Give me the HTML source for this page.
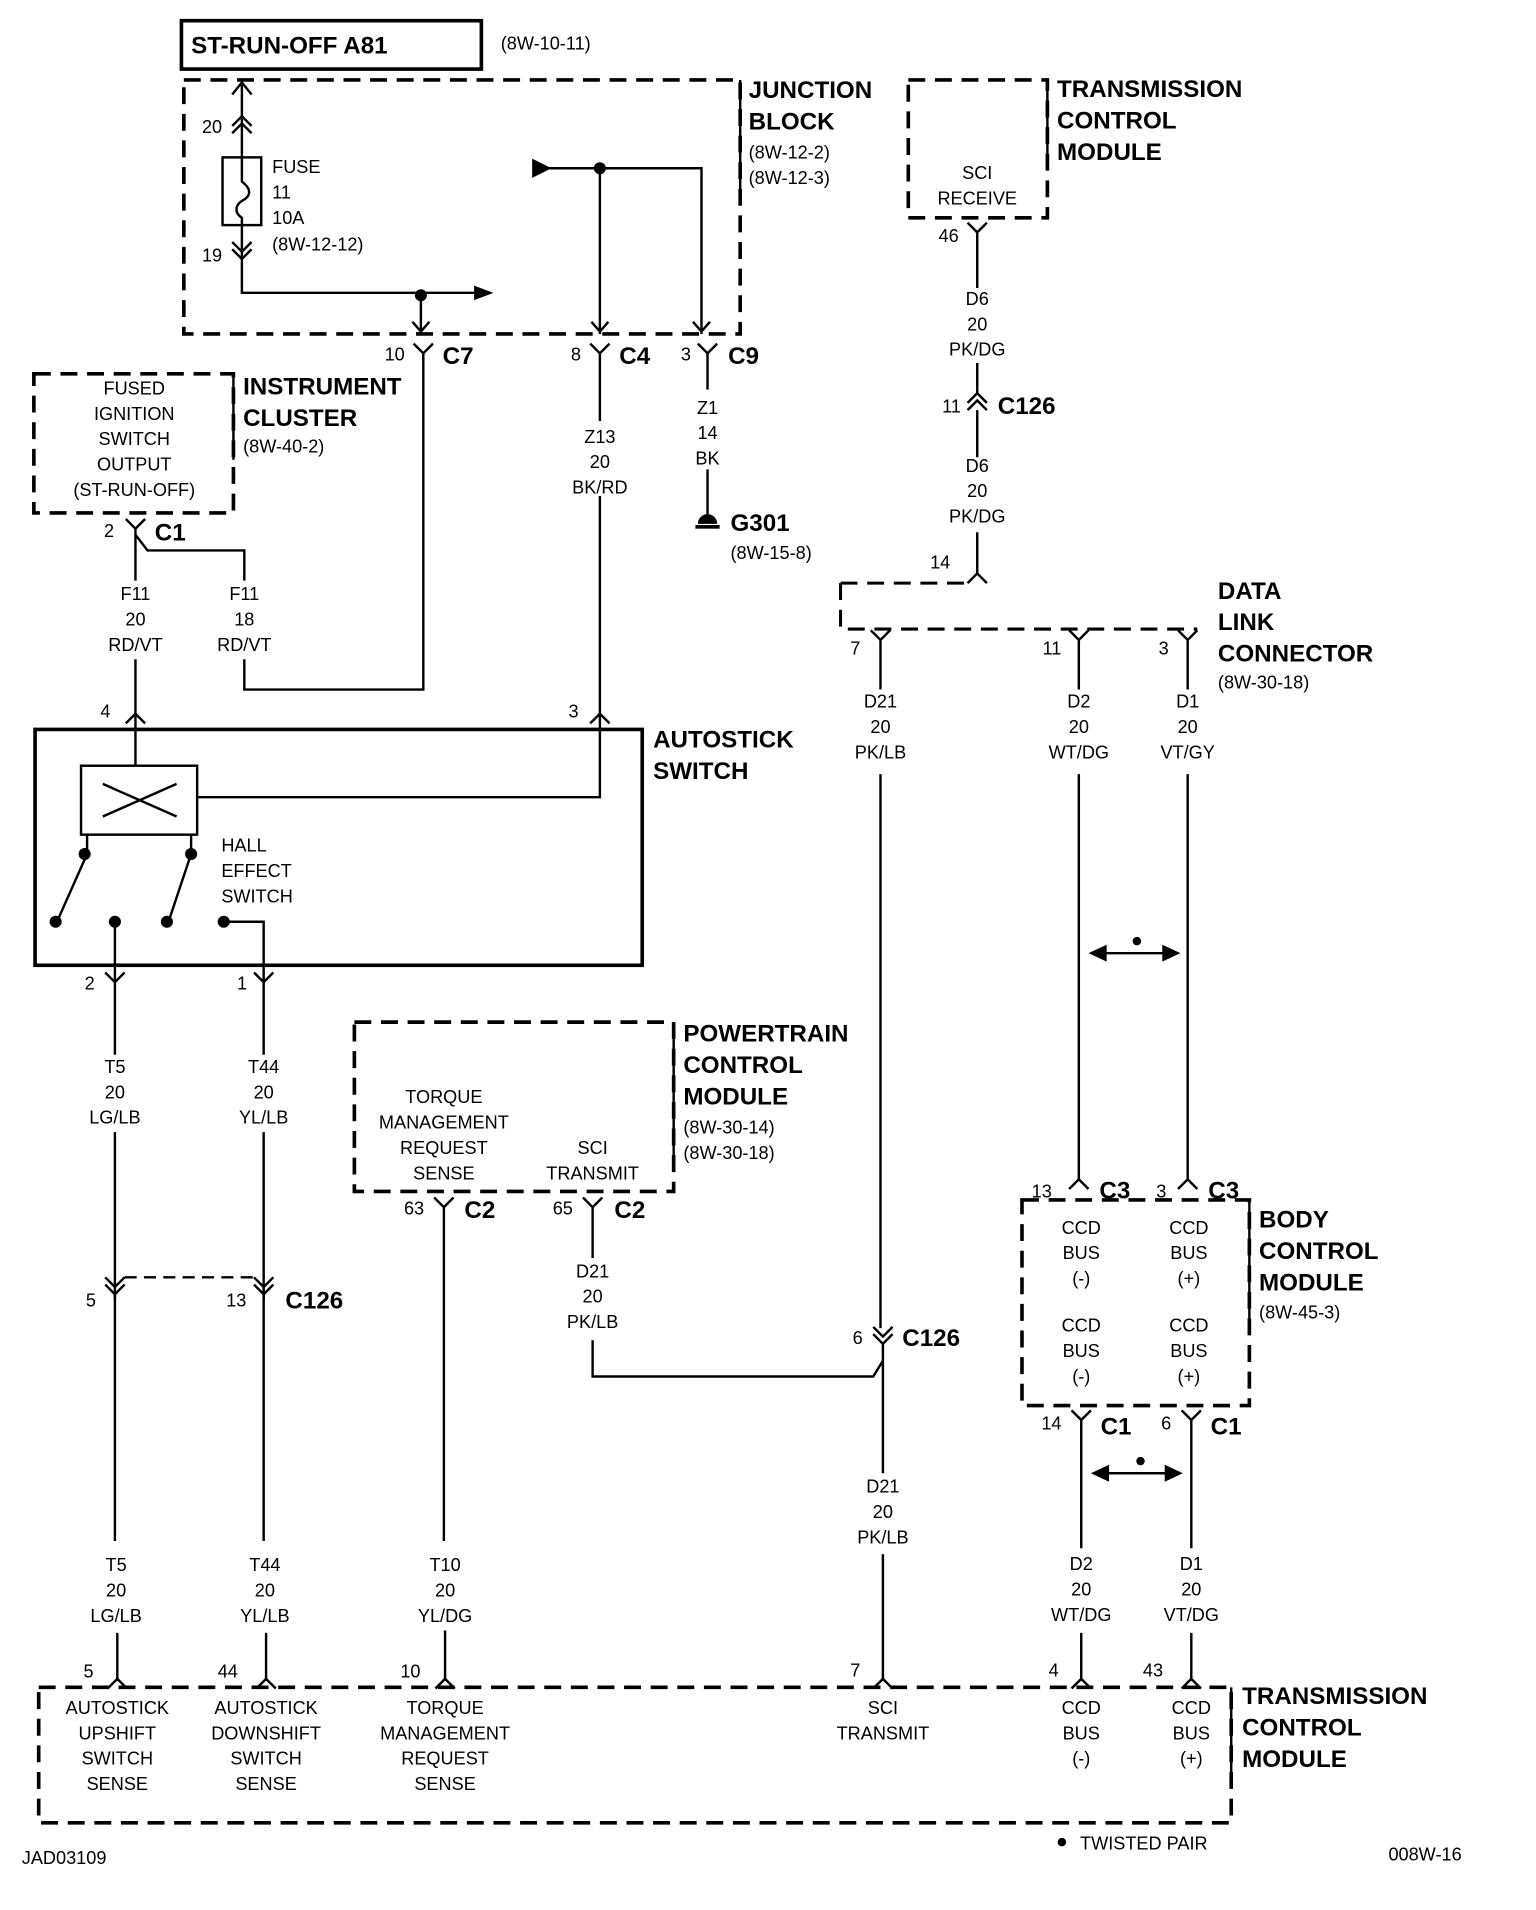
<!DOCTYPE html>
<html><head><meta charset="utf-8"><style>
html,body{margin:0;padding:0;background:#fff}
svg{display:block}
text{font-family:"Liberation Sans",sans-serif;fill:#000}
.s{font-size:15px}
.b{font-size:20px;font-weight:bold}
.m{text-anchor:middle}
</style></head><body>
<svg width="1536" height="1910" viewBox="0 0 1270 1579" xmlns="http://www.w3.org/2000/svg">
<g fill="none" stroke="#000" stroke-width="2">
<rect x="150" y="17" width="248" height="40" stroke-width="3"/>
<rect x="152" y="66" width="460" height="210" stroke-width="3" stroke-dasharray="14,8"/>
<path d="M200 70 V130 M200 186 V242 H400"/>
<path d="M192 78 L200 68 L208 78"/>
<path d="M192 104 L200 96 L208 104 M192 110 L200 102 L208 110"/>
<path d="M192 200 L200 208 L208 200 M192 206 L200 214 L208 206"/>
<rect x="184" y="130" width="32" height="56"/>
<path d="M200 130 V150 C208 156 208 162 200 166 C194 170 194 176 200 180 V186"/>
<path d="M348 244 V276 M341 266 L348 274 L355 266"/>
<path d="M443 139 H580 V276 M496 139 V276 M489 266 L496 274 L503 266 M573 266 L580 274 L587 266"/>
<path d="M342 284 L350 292 L358 284 M350 292 V570 H202 V545 M202 480 V455 H122 L112 442"/>
<path d="M488 284 L496 292 L504 284 M496 292 V348 M496 410 V590"/>
<path d="M577 284 L585 292 L593 284 M585 292 V322 M585 388 V425"/>
<rect x="28" y="309" width="165" height="115" stroke-width="3" stroke-dasharray="14,8"/>
<path d="M104 429 L112 437 L120 429 M112 437 V480 M112 545 V590"/>
<path d="M104 598 L112 590 L120 598 M488 598 L496 590 L504 598"/>
<rect x="29" y="603" width="502" height="195" stroke-width="3"/>
<path d="M112 590 V633"/>
<rect x="67" y="633" width="96" height="57"/>
<path d="M85 648 L146 675 M85 675 L146 648"/>
<path d="M163 659 H496 V590"/>
<path d="M72 690 V706 L48 760 M158 690 V706 L140 760"/>
<path d="M95 762 V812 M185 762 H218 V812"/>
<path d="M87 804 L95 812 L103 804 M210 804 L218 812 L226 804"/>
<path d="M95 812 V872 M218 812 V872 M95 936 V1075 M218 936 V1075"/>
<path d="M87 1056 L95 1064 L103 1056 M87 1062 L95 1070 L103 1062 M210 1056 L218 1064 L226 1056 M210 1062 L218 1070 L226 1062"/>
<path d="M103 1056 H210" stroke-dasharray="10,6"/>
<path d="M95 1070 V1274 M218 1070 V1274 M97 1350 V1388 M220 1350 V1388"/>
<rect x="293" y="845" width="264" height="140" stroke-width="3" stroke-dasharray="14,8"/>
<path d="M359 990 L367 998 L375 990 M367 998 V1274 M368 1348 V1388"/>
<path d="M482 990 L490 998 L498 990 M490 998 V1040 M490 1108 V1138 H722 L730 1125"/>
<rect x="751" y="66" width="115" height="114" stroke-width="3" stroke-dasharray="14,8"/>
<path d="M800 184 L808 192 L816 184 M808 192 V238 M808 300 V320"/>
<path d="M800 333 L808 325 L816 333 M800 339 L808 331 L816 339 M808 325 V320 M808 339 V378 M808 440 V474"/>
<path d="M800 482 L808 474 L816 482"/>
<path d="M695 482 H800 M695 482 V520 H990" stroke-width="2.5" stroke-dasharray="14,8"/>
<path d="M720 521 L728 529 L736 521 M728 529 V570 M728 640 V1098"/>
<path d="M884 521 L892 529 L900 521 M892 529 V570 M892 640 V975"/>
<path d="M974 521 L982 529 L990 521 M982 529 V570 M982 640 V975"/>
<path d="M722 1097 L730 1105 L738 1097 M722 1103 L730 1111 L738 1103 M730 1111 V1218 M730 1285 V1388"/>
<rect x="845" y="992" width="188" height="170" stroke-width="3" stroke-dasharray="14,8"/>
<path d="M884 983 L892 975 L900 983 M974 983 L982 975 L990 983"/>
<path d="M886 1166 L894 1174 L902 1166 M894 1174 V1280 M894 1350 V1388"/>
<path d="M977 1166 L985 1174 L993 1166 M985 1174 V1280 M985 1350 V1388"/>
<rect x="32" y="1395" width="986" height="112" stroke-width="3" stroke-dasharray="14,8"/>
<path d="M89 1396 L97 1388 L105 1396 M212 1396 L220 1388 L228 1396 M360 1396 L368 1388 L376 1396 M722 1396 L730 1388 L738 1396 M886 1396 L894 1388 L902 1396 M977 1396 L985 1388 L993 1396"/>
<path d="M910 788 H965 M912 1218 H967"/>
<path d="M612 66 V160 M193 309 V380 M866 66 V140 M557 845 V965 M1033 992 V1090 M1018 1395 V1470"/>
</g>
<g fill="#000">
<path d="M440 131 L456 139 L440 147 Z"/>
<path d="M392 236 L408 242 L392 248 Z"/>
<circle cx="348" cy="244" r="5"/><circle cx="496" cy="139" r="5"/>
<circle cx="70" cy="706" r="5"/><circle cx="158" cy="706" r="5"/>
<circle cx="46" cy="762" r="5"/><circle cx="95" cy="762" r="5"/>
<circle cx="138" cy="762" r="5"/><circle cx="185" cy="762" r="5"/>
<path d="M900 788 L915 781 L915 795 Z M976 788 L961 781 L961 795 Z"/>
<circle cx="940" cy="778" r="3.5"/>
<path d="M902 1218 L917 1211 L917 1225 Z M978 1218 L963 1211 L963 1225 Z"/>
<circle cx="943" cy="1208" r="3.5"/>
<path d="M577 433 A8 8 0 0 1 593 433 Z"/><rect x="575" y="434" width="20" height="3"/>
<circle cx="878" cy="1523" r="3.5"/>
</g>
<text class="b" x="158" y="44">ST-RUN-OFF A81</text>
<text class="s" x="414" y="41">(8W-10-11)</text>
<text class="b" x="619" y="81">JUNCTION</text><text class="b" x="619" y="107">BLOCK</text>
<text class="s" x="619" y="131">(8W-12-2)</text><text class="s" x="619" y="152">(8W-12-3)</text>
<text class="s" x="167" y="110">20</text><text class="s" x="167" y="216">19</text>
<text class="s" x="225" y="143">FUSE</text><text class="s" x="225" y="164">11</text><text class="s" x="225" y="185">10A</text><text class="s" x="225" y="207">(8W-12-12)</text>
<text class="s" x="318" y="298">10</text><text class="b" x="366" y="301">C7</text>
<text class="s" x="472" y="298">8</text><text class="b" x="512" y="301">C4</text>
<text class="s" x="563" y="298">3</text><text class="b" x="602" y="301">C9</text>
<g class="s m">
<text x="496" y="366">Z13</text><text x="496" y="387">20</text><text x="496" y="408">BK/RD</text>
<text x="585" y="342">Z1</text><text x="585" y="363">14</text><text x="585" y="384">BK</text>
<text x="111" y="326">FUSED</text><text x="111" y="347">IGNITION</text><text x="111" y="368">SWITCH</text><text x="111" y="389">OUTPUT</text><text x="111" y="410">(ST-RUN-OFF)</text>
<text x="112" y="496">F11</text><text x="112" y="517">20</text><text x="112" y="538">RD/VT</text>
<text x="202" y="496">F11</text><text x="202" y="517">18</text><text x="202" y="538">RD/VT</text>
<text x="95" y="887">T5</text><text x="95" y="908">20</text><text x="95" y="929">LG/LB</text>
<text x="218" y="887">T44</text><text x="218" y="908">20</text><text x="218" y="929">YL/LB</text>
<text x="367" y="912">TORQUE</text><text x="367" y="933">MANAGEMENT</text><text x="367" y="954">REQUEST</text><text x="367" y="975">SENSE</text>
<text x="490" y="954">SCI</text><text x="490" y="975">TRANSMIT</text>
<text x="490" y="1056">D21</text><text x="490" y="1077">20</text><text x="490" y="1098">PK/LB</text>
<text x="96" y="1299">T5</text><text x="96" y="1320">20</text><text x="96" y="1341">LG/LB</text>
<text x="219" y="1299">T44</text><text x="219" y="1320">20</text><text x="219" y="1341">YL/LB</text>
<text x="368" y="1299">T10</text><text x="368" y="1320">20</text><text x="368" y="1341">YL/DG</text>
<text x="808" y="148">SCI</text><text x="808" y="169">RECEIVE</text>
<text x="808" y="252">D6</text><text x="808" y="273">20</text><text x="808" y="294">PK/DG</text>
<text x="808" y="390">D6</text><text x="808" y="411">20</text><text x="808" y="432">PK/DG</text>
<text x="728" y="585">D21</text><text x="728" y="606">20</text><text x="728" y="627">PK/LB</text>
<text x="892" y="585">D2</text><text x="892" y="606">20</text><text x="892" y="627">WT/DG</text>
<text x="982" y="585">D1</text><text x="982" y="606">20</text><text x="982" y="627">VT/GY</text>
<text x="730" y="1234">D21</text><text x="730" y="1255">20</text><text x="730" y="1276">PK/LB</text>
<text x="894" y="1020">CCD</text><text x="894" y="1041">BUS</text><text x="894" y="1062">(-)</text>
<text x="983" y="1020">CCD</text><text x="983" y="1041">BUS</text><text x="983" y="1062">(+)</text>
<text x="894" y="1101">CCD</text><text x="894" y="1122">BUS</text><text x="894" y="1143">(-)</text>
<text x="983" y="1101">CCD</text><text x="983" y="1122">BUS</text><text x="983" y="1143">(+)</text>
<text x="894" y="1298">D2</text><text x="894" y="1319">20</text><text x="894" y="1340">WT/DG</text>
<text x="985" y="1298">D1</text><text x="985" y="1319">20</text><text x="985" y="1340">VT/DG</text>
<text x="97" y="1417">AUTOSTICK</text><text x="97" y="1438">UPSHIFT</text><text x="97" y="1459">SWITCH</text><text x="97" y="1480">SENSE</text>
<text x="220" y="1417">AUTOSTICK</text><text x="220" y="1438">DOWNSHIFT</text><text x="220" y="1459">SWITCH</text><text x="220" y="1480">SENSE</text>
<text x="368" y="1417">TORQUE</text><text x="368" y="1438">MANAGEMENT</text><text x="368" y="1459">REQUEST</text><text x="368" y="1480">SENSE</text>
<text x="730" y="1417">SCI</text><text x="730" y="1438">TRANSMIT</text>
<text x="894" y="1417">CCD</text><text x="894" y="1438">BUS</text><text x="894" y="1459">(-)</text>
<text x="985" y="1417">CCD</text><text x="985" y="1438">BUS</text><text x="985" y="1459">(+)</text>
</g>
<text class="b" x="604" y="439">G301</text><text class="s" x="604" y="462">(8W-15-8)</text>
<text class="b" x="201" y="326">INSTRUMENT</text><text class="b" x="201" y="352">CLUSTER</text><text class="s" x="201" y="374">(8W-40-2)</text>
<text class="s" x="86" y="444">2</text><text class="b" x="128" y="447">C1</text>
<text class="s" x="83" y="593">4</text><text class="s" x="470" y="593">3</text>
<text class="b" x="540" y="618">AUTOSTICK</text><text class="b" x="540" y="644">SWITCH</text>
<text class="s" x="183" y="704">HALL</text><text class="s" x="183" y="725">EFFECT</text><text class="s" x="183" y="746">SWITCH</text>
<text class="s" x="70" y="818">2</text><text class="s" x="196" y="818">1</text>
<text class="s" x="71" y="1080">5</text><text class="s" x="187" y="1080">13</text><text class="b" x="236" y="1082">C126</text>
<text class="b" x="565" y="861">POWERTRAIN</text><text class="b" x="565" y="887">CONTROL</text><text class="b" x="565" y="913">MODULE</text>
<text class="s" x="565" y="937">(8W-30-14)</text><text class="s" x="565" y="958">(8W-30-18)</text>
<text class="s" x="334" y="1004">63</text><text class="b" x="384" y="1007">C2</text>
<text class="s" x="457" y="1004">65</text><text class="b" x="508" y="1007">C2</text>
<text class="b" x="874" y="80">TRANSMISSION</text><text class="b" x="874" y="106">CONTROL</text><text class="b" x="874" y="132">MODULE</text>
<text class="s" x="776" y="200">46</text>
<text class="s" x="779" y="341">11</text><text class="b" x="825" y="342">C126</text>
<text class="s" x="769" y="470">14</text>
<text class="b" x="1007" y="495">DATA</text><text class="b" x="1007" y="521">LINK</text><text class="b" x="1007" y="547">CONNECTOR</text><text class="s" x="1007" y="569">(8W-30-18)</text>
<text class="s" x="703" y="541">7</text><text class="s" x="862" y="541">11</text><text class="s" x="958" y="541">3</text>
<text class="s" x="705" y="1111">6</text><text class="b" x="746" y="1113">C126</text>
<text class="s" x="853" y="990">13</text><text class="b" x="909" y="991">C3</text>
<text class="s" x="956" y="990">3</text><text class="b" x="999" y="991">C3</text>
<text class="b" x="1041" y="1015">BODY</text><text class="b" x="1041" y="1041">CONTROL</text><text class="b" x="1041" y="1067">MODULE</text><text class="s" x="1041" y="1090">(8W-45-3)</text>
<text class="s" x="861" y="1182">14</text><text class="b" x="910" y="1186">C1</text>
<text class="s" x="960" y="1182">6</text><text class="b" x="1001" y="1186">C1</text>
<text class="s" x="69" y="1387">5</text><text class="s" x="180" y="1387">44</text><text class="s" x="331" y="1387">10</text>
<text class="s" x="703" y="1386">7</text><text class="s" x="867" y="1386">4</text><text class="s" x="945" y="1386">43</text>
<text class="b" x="1027" y="1409">TRANSMISSION</text><text class="b" x="1027" y="1435">CONTROL</text><text class="b" x="1027" y="1461">MODULE</text>
<text class="s" x="893" y="1529">TWISTED PAIR</text>
<text class="s" x="18" y="1541">JAD03109</text><text class="s" x="1148" y="1538">008W-16</text>
</svg>
</body></html>
